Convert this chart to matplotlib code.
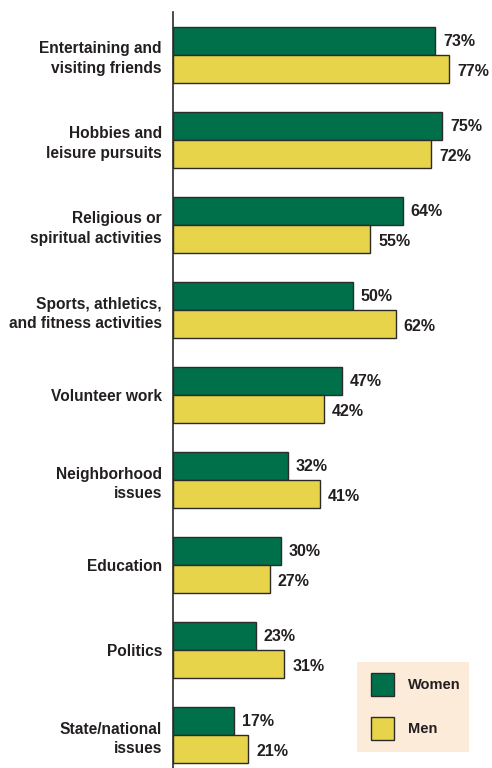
import matplotlib
matplotlib.use("Agg")
import matplotlib.pyplot as plt
from matplotlib.patches import Rectangle

categories = [
    "Entertaining and\nvisiting friends",
    "Hobbies and\nleisure pursuits",
    "Religious or\nspiritual activities",
    "Sports, athletics,\nand fitness activities",
    "Volunteer work",
    "Neighborhood\nissues",
    "Education",
    "Politics",
    "State/national\nissues",
]
women = [73, 75, 64, 50, 47, 32, 30, 23, 17]
men = [77, 72, 55, 62, 42, 41, 27, 31, 21]
series_names = ["Women", "Men"]

GREEN = "#00704A"
YELLOW = "#E8D44A"
EDGE = "#2B2B2B"
TEXT = "#231F20"
LEGEND_BG = "#FDEBDA"
FONT = ["Liberation Sans Narrow", "Liberation Sans", "DejaVu Sans"]

W, H = 492, 768
fig = plt.figure(figsize=(W / 100, H / 100), dpi=100)
ax_left = 173 / W
ax_bottom = 0 / H
ax_top = 12 / H
ax = fig.add_axes([ax_left, ax_bottom, 1 - ax_left, 1 - ax_top - ax_bottom])

bar_h = 28 / 85
ypos = list(range(len(categories)))
y_w = [y - bar_h / 2 for y in ypos]
y_m = [y + bar_h / 2 for y in ypos]

ax.barh(y_w, women, height=bar_h, color=GREEN, edgecolor=EDGE, linewidth=1.0)
ax.barh(y_m, men, height=bar_h, color=YELLOW, edgecolor=EDGE, linewidth=1.0)

for y, v in zip(y_w, women):
    ax.text(v + 2.2, y + 0.01, f"{v}%", va="center", ha="left", fontsize=11.5,
            fontweight="bold", color=TEXT, family=FONT)
for y, v in zip(y_m, men):
    ax.text(v + 2.2, y + 0.03, f"{v}%", va="center", ha="left", fontsize=11.5,
            fontweight="bold", color=TEXT, family=FONT)

ax.set_xlim(0, (W - 173) / 3.59)
ax.set_ylim(len(categories) - 1 + 33 / 85, -43 / 85)
ax.set_yticks(ypos)
ax.set_yticklabels(categories, fontsize=11.2, fontweight="bold", color=TEXT,
                   family=FONT, linespacing=1.35)
ax.tick_params(axis="y", length=0, pad=8)
ax.set_xticks([])
for side in ["top", "right", "bottom"]:
    ax.spines[side].set_visible(False)
ax.spines["left"].set_color(EDGE)
ax.spines["left"].set_linewidth(1.2)

# legend panel
def px(x, y, w, h, **kw):
    return Rectangle((x / W, 1 - (y + h) / H), w / W, h / H,
                     transform=fig.transFigure, **kw)

fig.add_artist(px(357, 662, 112, 90, facecolor=LEGEND_BG, edgecolor="none"))
fig.add_artist(px(371, 673, 23, 23, facecolor=GREEN, edgecolor=EDGE, linewidth=1.0))
fig.add_artist(px(371, 717, 23, 23, facecolor=YELLOW, edgecolor=EDGE, linewidth=1.0))
fig.text(408 / W, 1 - 685 / H, series_names[0], va="center", ha="left",
         fontsize=10.5, fontweight="bold", color=TEXT, family=FONT)
fig.text(408 / W, 1 - 729 / H, series_names[1], va="center", ha="left",
         fontsize=10.5, fontweight="bold", color=TEXT, family=FONT)

fig.savefig("out.png", dpi=100)
